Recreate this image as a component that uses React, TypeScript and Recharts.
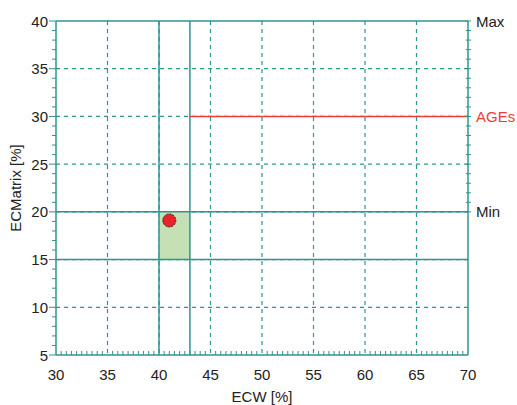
import { ComposedChart, XAxis, YAxis, CartesianGrid, ReferenceLine, ReferenceArea, Scatter } from 'recharts';

const TEAL = '#2e9490';
const FONT = '"Liberation Sans", Arial, sans-serif';

const xLabels = [30, 35, 40, 45, 50, 55, 60, 65, 70];
const yLabels = [5, 10, 15, 20, 25, 30, 35, 40];
const gridX = [35, 40, 45, 50, 55, 60, 65];
const gridY = [10, 15, 20, 25, 30, 35];
const ecwLimits = [40, 43];
const ecmLimits = [15, 20];
const agesLevel = 30;
const agesFrom = 43;
const measurement = [{ ecw: 41, ecm: 19.1 }];
const rightMarks = [
  { value: 20, label: 'Min', color: '#222' },
  { value: 30, label: 'AGEs', color: '#f03c3c' },
  { value: 40, label: 'Max', color: '#222' },
];

// minor tick positions (0.5 on x, 1 on y)
const xTicks = Array.from({ length: 81 }, (_, i) => 30 + i * 0.5);
const yTicks = Array.from({ length: 36 }, (_, i) => 5 + i);
const rightTicks = Array.from({ length: 21 }, (_, i) => 20 + i);

const XTick = ({ x, y, payload }: any) => {
  const v = payload.value;
  const major = xLabels.includes(v);
  return (
    <g>
      {!major && <line x1={x} x2={x} y1={y} y2={y - 4} stroke={TEAL} />}
      {major && (
        <text x={x} y={y + 25} textAnchor="middle" fontSize={15} fontFamily={FONT} fill="#222">
          {v}
        </text>
      )}
    </g>
  );
};

const YTick = ({ x, y, payload }: any) => {
  const v = payload.value;
  const major = yLabels.includes(v);
  return (
    <g>
      <line x1={x} x2={x - (major ? 7 : 4)} y1={y} y2={y} stroke={TEAL} />
      {major && (
        <text x={x - 8} y={y + 5.5} textAnchor="end" fontSize={15} fontFamily={FONT} fill="#222">
          {v}
        </text>
      )}
    </g>
  );
};

const RightTick = ({ x, y, payload }: any) => {
  const v = payload.value;
  const mark = rightMarks.find((m) => m.value === v);
  return (
    <g>
      <line x1={x - 2} x2={x + 3} y1={y} y2={y} stroke={TEAL} />
      {mark && (
        <text x={x + 8} y={y + 5.5} textAnchor="start" fontSize={15} fontFamily={FONT} fill={mark.color}>
          {mark.label}
        </text>
      )}
    </g>
  );
};

const Dot = ({ cx, cy }: any) => (
  <circle cx={cx} cy={cy} r={6.5} fill="#e8232a" stroke="#3a1a1a" strokeWidth={1} strokeDasharray="2 1" />
);

const NoShape = () => <g />;

export default function App() {
  return (
    <div style={{ position: 'absolute', left: 0, top: 0 }}>
      <ComposedChart width={517} height={405} margin={{ top: 21, right: 0, bottom: 0, left: 0 }}>
        <CartesianGrid
          yAxisId="l"
          stroke={TEAL}
          strokeDasharray="4 4"
          strokeWidth={1.2}
          verticalValues={gridX}
          horizontalValues={gridY}
        />
        <XAxis
          type="number"
          dataKey="ecw"
          domain={[30, 70]}
          ticks={xTicks}
          interval={0}
          height={50}
          tickSize={0}
          tickMargin={0}
          tickLine={false}
          tick={<XTick />}
          axisLine={{ stroke: TEAL, strokeWidth: 1.5 }}
          label={{ value: 'ECW [%]', position: 'insideBottom', offset: 3, fontSize: 15, fontFamily: FONT, fill: '#222' }}
        />
        <YAxis
          yAxisId="l"
          type="number"
          dataKey="ecm"
          domain={[5, 40]}
          ticks={yTicks}
          interval={0}
          width={56}
          tickSize={0}
          tickMargin={0}
          tickLine={false}
          tick={<YTick />}
          axisLine={{ stroke: TEAL, strokeWidth: 1.5 }}
          label={{
            value: 'ECMatrix [%]',
            angle: -90,
            position: 'insideLeft',
            offset: 16,
            fontSize: 15,
            fontFamily: FONT,
            fill: '#222',
            style: { textAnchor: 'middle' },
          }}
        />
        <YAxis
          yAxisId="r"
          orientation="right"
          type="number"
          dataKey="ecm"
          domain={[5, 40]}
          allowDataOverflow
          ticks={rightTicks}
          interval={0}
          width={49}
          tickSize={0}
          tickMargin={0}
          tickLine={false}
          tick={<RightTick />}
          axisLine={{ stroke: TEAL, strokeWidth: 1.5 }}
        />
        <ReferenceArea
          yAxisId="l"
          x1={ecwLimits[0]}
          x2={ecwLimits[1]}
          y1={ecmLimits[0]}
          y2={ecmLimits[1]}
          fill="#c5e0b4"
          fillOpacity={1}
          stroke="none"
        />
        <ReferenceLine yAxisId="l" y={40} stroke={TEAL} strokeWidth={1.5} />
        {ecwLimits.map((v) => (
          <ReferenceLine key={'x' + v} yAxisId="l" x={v} stroke={TEAL} strokeWidth={1.5} />
        ))}
        {ecmLimits.map((v) => (
          <ReferenceLine key={'y' + v} yAxisId="l" y={v} stroke={TEAL} strokeWidth={1.5} />
        ))}
        <ReferenceLine
          yAxisId="l"
          segment={[
            { x: agesFrom, y: agesLevel },
            { x: 70, y: agesLevel },
          ]}
          stroke="#f03c3c"
          strokeWidth={1.5}
        />
        <Scatter yAxisId="r" data={measurement} dataKey="ecm" shape={<NoShape />} isAnimationActive={false} />
        <Scatter yAxisId="l" data={measurement} dataKey="ecm" shape={<Dot />} isAnimationActive={false} />
      </ComposedChart>
    </div>
  );
}
